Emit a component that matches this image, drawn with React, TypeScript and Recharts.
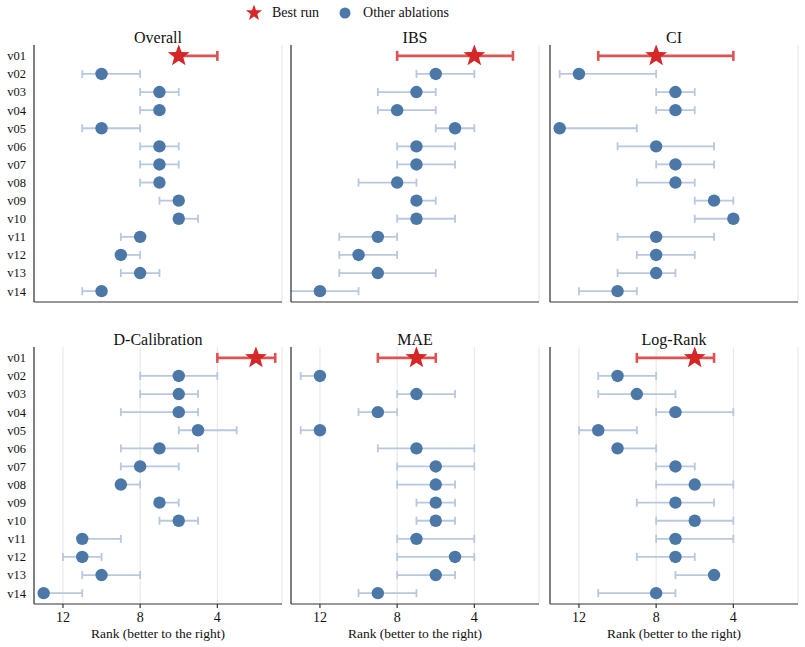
import React from "react";
import { ScatterChart, Scatter, XAxis, YAxis, CartesianGrid, ErrorBar } from "recharts";

// ablation variants, v01 is the best run
const variants = ["v01", "v02", "v03", "v04", "v05", "v06", "v07", "v08", "v09", "v10", "v11", "v12", "v13", "v14"];

// mean rank per variant, with the interval (lo = better end, hi = worse end)
const overallRank = [6, 10, 7, 7, 10, 7, 7, 7, 6, 6, 8, 9, 8, 10];
const overallLo = [4, 8, 6, 7, 8, 6, 6, 7, 6, 5, 8, 8, 7, 10];
const overallHi = [6, 11, 8, 8, 11, 8, 8, 8, 7, 6, 9, 9, 9, 11];

const ibsRank = [4, 6, 7, 8, 5, 7, 7, 8, 7, 7, 9, 10, 9, 12];
const ibsLo = [2, 4, 6, 6, 4, 5, 5, 7, 6, 5, 8, 8, 6, 10];
const ibsHi = [8, 7, 9, 9, 6, 8, 8, 10, 7, 8, 11, 11, 11, 14];

const ciRank = [8, 12, 7, 7, 13, 8, 7, 7, 5, 4, 8, 8, 8, 10];
const ciLo = [4, 8, 6, 6, 9, 5, 5, 6, 4, 4, 5, 6, 7, 9];
const ciHi = [11, 13, 8, 8, 13, 10, 8, 9, 6, 6, 10, 9, 10, 12];

const dcalRank = [2, 6, 6, 6, 5, 7, 8, 9, 7, 6, 11, 11, 10, 13];
const dcalLo = [1, 4, 5, 5, 3, 5, 6, 8, 6, 5, 9, 10, 8, 11];
const dcalHi = [4, 8, 8, 9, 6, 9, 9, 9, 7, 7, 11, 12, 11, 13];

const maeRank = [7, 12, 7, 9, 12, 7, 6, 6, 6, 6, 7, 5, 6, 9];
const maeLo = [6, 12, 5, 8, 12, 4, 4, 5, 5, 5, 4, 4, 5, 7];
const maeHi = [9, 13, 8, 10, 13, 9, 8, 8, 7, 7, 8, 8, 8, 10];

const logrankRank = [6, 10, 9, 7, 11, 10, 7, 6, 7, 6, 7, 7, 5, 8];
const logrankLo = [5, 8, 7, 4, 9, 8, 6, 4, 5, 4, 4, 6, 5, 7];
const logrankHi = [9, 11, 11, 8, 12, 10, 8, 8, 9, 8, 8, 9, 7, 11];

const xTicks = [4, 8, 12];
const yTicks = variants.map((_, i) => i + 1);

const panels = [
  { title: "Overall", rank: overallRank, lo: overallLo, hi: overallHi },
  { title: "IBS", rank: ibsRank, lo: ibsLo, hi: ibsHi },
  { title: "CI", rank: ciRank, lo: ciLo, hi: ciHi },
  { title: "D-Calibration", rank: dcalRank, lo: dcalLo, hi: dcalHi },
  { title: "MAE", rank: maeRank, lo: maeLo, hi: maeHi },
  { title: "Log-Rank", rank: logrankRank, lo: logrankLo, hi: logrankHi },
];

const BEST = "#d62728";
const BEST_BAR = "#de5253";
const OTHER = "#4c78a8";
const OTHER_BAR = "#b8c8dd";
const AXIS = "#333333";
const GRID = "#e2e5ea";
const FONT = '"Liberation Serif", "DejaVu Serif", serif';

const COL_LEFT = [34, 291, 550];
const ROW_TOP = [45, 347];
const PLOT_W = 248;
const PLOT_H = 257;
const Y_AXIS_W = 34;

function starPath(cx: number, cy: number, outer: number, inner: number) {
  const pts: string[] = [];
  for (let k = 0; k < 10; k++) {
    const r = k % 2 === 0 ? outer : inner;
    const a = -Math.PI / 2 + (k * Math.PI) / 5;
    pts.push(`${cx + r * Math.cos(a)},${cy + r * Math.sin(a)}`);
  }
  return pts.join(" ");
}

const StarShape = (props: any) => {
  const { cx, cy } = props;
  if (cx == null || cy == null) return null;
  return <polygon points={starPath(cx, cy, 11.5, 4.8)} fill={BEST} />;
};

const DotShape = (props: any) => {
  const { cx, cy } = props;
  if (cx == null || cy == null) return null;
  return <circle cx={cx} cy={cy} r={6.2} fill={OTHER} />;
};

function Panel({ index }: { index: number }) {
  const panel = panels[index];
  const col = index % 3;
  const row = Math.floor(index / 3);
  const bottom = row === 1;

  const rows = variants.map((name, i) => ({
    name,
    pos: i + 1,
    rank: panel.rank[i],
    err: [panel.rank[i] - panel.lo[i], panel.hi[i] - panel.rank[i]],
  }));
  const best = rows.slice(0, 1);
  const others = rows.slice(1);

  const axisH = bottom ? 40 : 8;
  const left = COL_LEFT[col] - Y_AXIS_W;
  const top = ROW_TOP[row];
  const tickStyle = { fill: "#111", fontSize: 14, fontFamily: FONT };

  return (
    <>
      <div
        style={{
          position: "absolute",
          left: COL_LEFT[col],
          top: top - 15,
          width: PLOT_W,
          textAlign: "center",
          fontFamily: FONT,
          fontSize: 16,
          lineHeight: "16px",
          color: "#111",
        }}
      >
        {panel.title}
      </div>
      {/* panels without tick labels clip error bars at the left spine */}
      <div
        style={{
          position: "absolute",
          left,
          top,
          fontFamily: FONT,
          clipPath: col === 0 ? undefined : `inset(0 0 0 ${Y_AXIS_W - 1}px)`,
        }}
      >
        <ScatterChart
          width={Y_AXIS_W + PLOT_W + 2}
          height={PLOT_H + axisH}
          margin={{ top: 0, right: 2, bottom: 0, left: 0 }}
          style={{ fontFamily: FONT }}
        >
          <CartesianGrid horizontal={false} stroke={GRID} strokeWidth={1} />
          <XAxis
            type="number"
            dataKey="rank"
            domain={[0.65, 13.5]}
            reversed
            allowDataOverflow
            ticks={xTicks}
            height={axisH}
            stroke={AXIS}
            strokeWidth={1.2}
            tickSize={4}
            tickMargin={4}
            tick={bottom ? tickStyle : false}
            label={
              bottom
                ? {
                    value: "Rank (better to the right)",
                    position: "insideBottom",
                    offset: 6,
                    fill: "#111",
                    fontSize: 13.5,
                    fontFamily: FONT,
                  }
                : undefined
            }
          />
          <YAxis
            type="number"
            dataKey="pos"
            domain={[0.4, 14.6]}
            reversed
            ticks={yTicks}
            interval={0}
            width={Y_AXIS_W}
            stroke={AXIS}
            strokeWidth={1.2}
            tickLine={false}
            tickSize={0}
            tickMargin={8}
            tickFormatter={(v: number) => variants[v - 1]}
            tick={col === 0 ? { ...tickStyle, fontSize: 12.5 } : false}
          />
          <Scatter data={others} shape={<DotShape />} isAnimationActive={false}>
            <ErrorBar dataKey="err" direction="x" stroke={OTHER_BAR} strokeWidth={1.8} width={4} />
          </Scatter>
          <Scatter data={best} shape={<StarShape />} isAnimationActive={false}>
            <ErrorBar dataKey="err" direction="x" stroke={BEST_BAR} strokeWidth={2.6} width={5} />
          </Scatter>
        </ScatterChart>
      </div>
    </>
  );
}

function Legend() {
  return (
    <div
      style={{
        position: "absolute",
        left: 243,
        top: 4,
        height: 18,
        display: "flex",
        alignItems: "center",
        fontFamily: FONT,
        fontSize: 14,
        color: "#111",
      }}
    >
      <svg width={22} height={18}>
        <polygon points={starPath(11, 9, 8.5, 3.5)} fill={BEST} />
      </svg>
      <span style={{ marginLeft: 7, marginRight: 18 }}>Best run</span>
      <svg width={16} height={18}>
        <circle cx={8} cy={9} r={5.5} fill={OTHER} />
      </svg>
      <span style={{ marginLeft: 10 }}>Other ablations</span>
    </div>
  );
}

export default function App() {
  return (
    <div
      style={{
        position: "absolute",
        left: 0,
        top: 0,
        width: 805,
        height: 647,
        background: "#fff",
        overflow: "hidden",
        fontFamily: FONT,
      }}
    >
      <Legend />
      {panels.map((_, i) => (
        <Panel key={i} index={i} />
      ))}
    </div>
  );
}
